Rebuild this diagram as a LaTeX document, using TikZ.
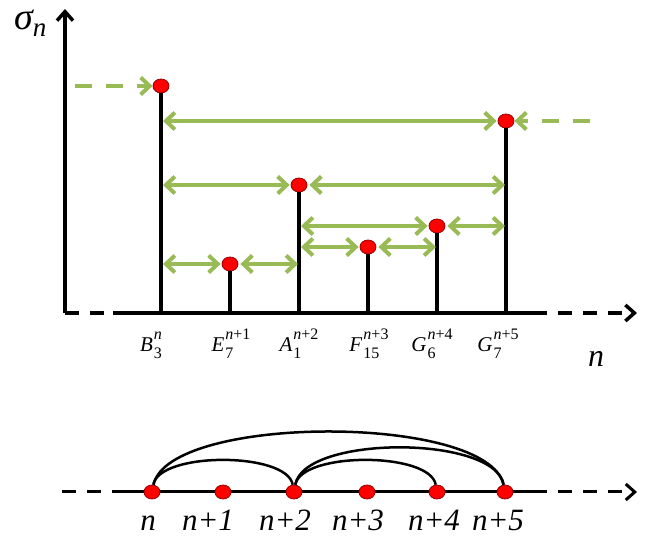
\documentclass[tikz,border=0pt]{standalone}
\usepackage{fontspec}
\setmainfont{Liberation Serif}
\usetikzlibrary{
  shapes.geometric,
  arrows.meta
}
\definecolor{dotcolor}{RGB}{255, 0, 0}
\definecolor{dotborder}{RGB}{150, 0, 0}
\definecolor{levelcolor}{RGB}{152, 187, 86}
% letter with stacked sub- and superscript
\newcommand{\levelname}[3]{\textit{#1}\kern1pt\ooalign{\raisebox{12pt}{\fontsize{16}{16}\selectfont #3}\cr\raisebox{-6.5pt}{\fontsize{16}{16}\selectfont #2}\cr}}
\tikzset{
reddot/.style={
  ellipse,
  draw=dotborder,
  fill=dotcolor,
  line width=0.8pt,
  minimum width=16pt,
  minimum height=14pt,
  inner sep=0pt
},
stemline/.style={
  line width=4pt
},
axisline/.style={
  line width=3.5pt
},
axisdash/.style={
  axisline,
  dash pattern=on 14pt off 11pt
},
axisarrow/.style={
  axisdash,
  -{Straight Barb[length=9pt,width=16pt]}
},
levelarrow/.style={
  {Straight Barb[length=9pt,width=17pt]}-{Straight Barb[length=9pt,width=17pt]},
  line width=4pt,
  draw=levelcolor,
  shorten <=2pt,
  shorten >=1pt
},
feedarrow/.style={
  -{Straight Barb[length=9pt,width=17pt]},
  line width=4pt,
  draw=levelcolor,
  dash pattern=on 17pt off 14pt
},
linkarc/.style={
  line width=2.5pt
},
ticklabel/.style={
  font=\fontsize{21}{24}\selectfont,
  anchor=base,
  inner sep=0pt
},
axislabel/.style={
  font=\fontsize{32}{36}\selectfont\itshape,
  anchor=base,
  inner sep=0pt
},
steplabel/.style={
  font=\fontsize{31}{34}\selectfont\itshape,
  anchor=base,
  inner sep=0pt
}
}

\begin{document}
\begin{tikzpicture}[x=1pt, y=1pt]
  \useasboundingbox (0,0) rectangle (647,537);

  % axes of the upper chart
  \coordinate (origin) at (65,224);
  \coordinate (ytop) at (65,528);
  \coordinate (xsolid) at (113,224);
  \coordinate (xend) at (533,224);
  \coordinate (xtip) at (637,224);
  \draw[axisline, -{Straight Barb[length=9pt,width=16pt]}] (origin) -- (ytop);
  \draw[axisdash] (origin) -- (xsolid);
  \draw[axisline] (xsolid) -- (xend);
  \draw[axisarrow] (xend) -- (xtip);
  \node[axislabel, font=\fontsize{38}{40}\selectfont\itshape, anchor=base west] (sigma) at (14,507) {σ\raisebox{-7pt}{\fontsize{27}{28}\selectfont n}};
  \node[axislabel] (xname) at (596,170) {n};

  % stems
  \coordinate (Bf) at (161,224);
  \coordinate (Ef) at (230,224);
  \coordinate (Af) at (299,224);
  \coordinate (Ff) at (368,224);
  \coordinate (G6f) at (437,224);
  \coordinate (G7f) at (506,224);
  \node[reddot] (B) at (161,451) {};
  \node[reddot] (E) at (230,273) {};
  \node[reddot] (A) at (299,352) {};
  \node[reddot] (F) at (368,290) {};
  \node[reddot] (G6) at (437,311) {};
  \node[reddot] (G7) at (506,416) {};
  \draw[stemline] (Bf) -- (B);
  \draw[stemline] (Ef) -- (E);
  \draw[stemline] (Af) -- (A);
  \draw[stemline] (Ff) -- (F);
  \draw[stemline] (G6f) -- (G6);
  \draw[stemline] (G7f) -- (G7);

  % level arrows
  \coordinate (feedB) at (75,451);
  \coordinate (feedG) at (590,416);
  \draw[feedarrow] (feedB) -- (B);
  \draw[feedarrow] (feedG) -- (G7);
  \draw[levelarrow] (Bf |- G7) -- (G7);
  \draw[levelarrow] (Bf |- A) -- (A);
  \draw[levelarrow] (A) -- (G7f |- A);
  \draw[levelarrow] (Af |- G6) -- (G6);
  \draw[levelarrow] (G6) -- (G7f |- G6);
  \draw[levelarrow] (Af |- F) -- (F);
  \draw[levelarrow] (F) -- (G6f |- F);
  \draw[levelarrow] (Bf |- E) -- (E);
  \draw[levelarrow] (E) -- (Af |- E);

  \node[ticklabel] (lB) at (151,185) {\levelname{B}{3}{\textit{n}}};
  \node[ticklabel] (lE) at (231,185) {\levelname{E}{7}{\textit{n}+1}};
  \node[ticklabel] (lA) at (299,185) {\levelname{A}{1}{\textit{n}+2}};
  \node[ticklabel] (lF) at (369,185) {\levelname{F}{15}{\textit{n}+3}};
  \node[ticklabel] (lG6) at (432,185) {\levelname{G}{6}{\textit{n}+4}};
  \node[ticklabel] (lG7) at (498,185) {\levelname{G}{7}{\textit{n}+5}};

  % lower line
  \coordinate (lstart) at (62,45);
  \coordinate (lsolid) at (113,45);
  \coordinate (lend) at (533,45);
  \coordinate (ltip) at (637,45);
  \draw[axisdash, line width=3pt] (lstart) -- (lsolid);
  \draw[axisline, line width=3pt] (lsolid) -- (lend);
  \draw[axisarrow, line width=3pt] (lend) -- (ltip);
  \node[reddot] (p0) at (152,45) {};
  \node[reddot] (p1) at (223,45) {};
  \node[reddot] (p2) at (294,45) {};
  \node[reddot] (p3) at (367,45) {};
  \node[reddot] (p4) at (437,45) {};
  \node[reddot] (p5) at (505,45) {};
  \draw[linkarc] (p0) .. controls +(80:41) and +(100:41) .. (p2);
  \draw[linkarc] (p0) .. controls +(78:80) and +(102:80) .. (p5);
  \draw[linkarc] (p2) .. controls +(80:41) and +(100:41) .. (p4);
  \draw[linkarc] (p2) .. controls +(80:58) and +(100:58) .. (p5);

  \node[steplabel] (t0) at (148,6) {n};
  \node[steplabel] (t1) at (208,6) {n+1};
  \node[steplabel] (t2) at (285,6) {n+2};
  \node[steplabel] (t3) at (358,6) {n+3};
  \node[steplabel] (t4) at (434,6) {n+4};
  \node[steplabel] (t5) at (498,6) {n+5};
\end{tikzpicture}
\end{document}
